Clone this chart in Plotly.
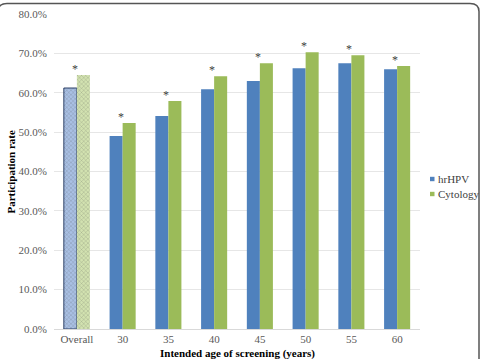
import plotly.graph_objects as go

categories = ["Overall", "30", "35", "40", "45", "50", "55", "60"]
hrhpv = [0.612, 0.490, 0.541, 0.609, 0.630, 0.662, 0.675, 0.660]
cytology = [0.645, 0.523, 0.579, 0.642, 0.675, 0.703, 0.695, 0.668]
significant = [True, True, True, True, True, True, True, True]
series_names = ["hrHPV", "Cytology"]

BLUE = "#4F81BD"
GREEN = "#9BBB59"
FONT = "Liberation Serif, Times New Roman, serif"

W, H = 481, 359
L, R, T, B = 54, 61, 14, 30

def colors(base, light):
    return [light if c == "Overall" else base for c in categories]

fig = go.Figure()
fig.add_trace(go.Bar(
    name=series_names[0], x=categories, y=hrhpv, showlegend=False,
    marker=dict(
        color=colors(BLUE, "#A9C0E4"),
        line=dict(color=["#2B3F66" if c == "Overall" else BLUE for c in categories],
                  width=[1 if c == "Overall" else 0 for c in categories]),
        pattern=dict(shape=["x" if c == "Overall" else "" for c in categories],
                     fgcolor="#9DB5DE", bgcolor="#BACDEA", size=3, solidity=0.2),
    ),
))
fig.add_trace(go.Bar(
    name=series_names[1], x=categories, y=cytology, showlegend=False,
    marker=dict(
        color=colors(GREEN, "#D2E2B0"),
        line=dict(width=0),
        pattern=dict(shape=["x" if c == "Overall" else "" for c in categories],
                     fgcolor="#C3D79E", bgcolor="#D9E7BE", size=3, solidity=0.2),
    ),
))

annotations = []
for i, (a, b, s) in enumerate(zip(hrhpv, cytology, significant)):
    if s:
        annotations.append(dict(
            x=i, y=max(a, b), xref="x", yref="y", text="*", showarrow=False,
            yanchor="bottom", xshift=-2, yshift=-3,
            font=dict(family=FONT, size=12, color="#404040"),
        ))

annotations.append(dict(
    text="<b>Participation rate</b>", xref="paper", yref="paper",
    x=0, y=0.5, xanchor="center", yanchor="middle", textangle=-90, showarrow=False,
    xshift=-(L - 10), font=dict(family=FONT, size=11, color="#000000"),
))
annotations.append(dict(
    text="<b>Intended age of screening (years)</b>", xref="paper", yref="paper",
    x=0.5, y=0, xanchor="center", yanchor="middle", showarrow=False,
    yshift=-24, font=dict(family=FONT, size=11, color="#000000"),
))

pw = W - L - R
ph = H - T - B
def px2x(p):
    return (p - L) / pw
def py2y(p):
    return (H - B - p) / ph

x0, x1, y0, y1 = px2x(-2), px2x(479), py2y(360), py2y(3.5)
rx, ry = px2x(9) - px2x(0), py2y(0) - py2y(8)
path = (f"M {x0},{y0} L {x0},{y1 - ry} Q {x0},{y1} {x0 + rx},{y1} "
        f"L {x1 - rx},{y1} Q {x1},{y1} {x1},{y1 - ry} L {x1},{y0}")

shapes = [dict(type="path", path=path, xref="paper", yref="paper",
               line=dict(color="#555555", width=1.5))]

# manual legend
for k, (name, col) in enumerate(zip(series_names, [BLUE, GREEN])):
    cy = 179 + k * 15
    shapes.append(dict(type="rect", xref="paper", yref="paper",
                       x0=px2x(430), x1=px2x(434.5), y0=py2y(cy + 2.2), y1=py2y(cy - 2.2),
                       fillcolor=col, line=dict(width=0)))
    annotations.append(dict(text=name, xref="paper", yref="paper",
                            x=px2x(436), y=py2y(cy), xanchor="left", yanchor="middle",
                            showarrow=False,
                            font=dict(family=FONT, size=11, color="#404040")))

fig.update_layout(
    width=W, height=H,
    margin=dict(l=L, r=R, t=T, b=B, autoexpand=False),
    paper_bgcolor="white", plot_bgcolor="white",
    barmode="group", bargap=0.43, bargroupgap=0,
    font=dict(family=FONT, size=11, color="#595959"),
    showlegend=False,
    annotations=annotations,
    shapes=shapes,
    xaxis=dict(type="category", range=[-0.5, len(categories) - 0.5],
               showgrid=False, showline=True, linecolor="#D9D9D9",
               linewidth=1, ticks="", tickangle=0, automargin=False,
               tickfont=dict(family=FONT, size=11, color="#595959")),
    yaxis=dict(range=[0, 0.8], dtick=0.1, tickformat=".1%", showgrid=True,
               gridcolor="#E6E6E6", gridwidth=1, zeroline=False, showline=False,
               ticks="", ticklabelstandoff=6, automargin=False,
               tickfont=dict(family=FONT, size=11, color="#595959")),
)

fig.write_html("out.html")
